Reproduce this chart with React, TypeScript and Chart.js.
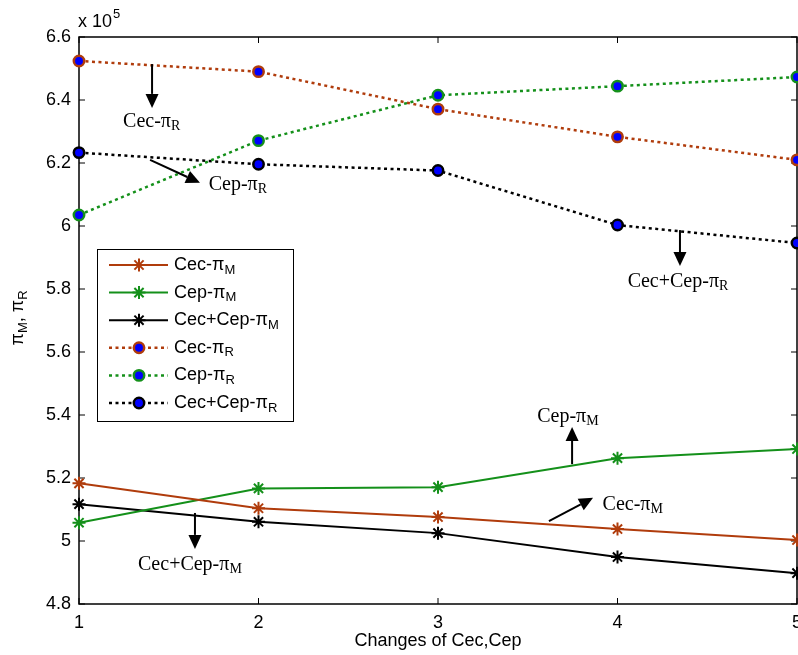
import React, { useEffect, useRef } from 'react';
import { Chart, registerables } from 'chart.js';
Chart.register(...registerables);

const xValues = [1, 2, 3, 4, 5];
const cecM = [518300, 510400, 507600, 503800, 500300];
const cepM = [505800, 516700, 517100, 526300, 529200];
const bothM = [511700, 506100, 502500, 494900, 489800];
const cecR = [652400, 649000, 637100, 628300, 621000];
const cepR = [603500, 627100, 641500, 644400, 647300];
const bothR = [623300, 619600, 617600, 600300, 594600];

const yMin = 480000;
const yMax = 660000;
const yStep = 20000;
const xTitle = 'Changes of Cec,Cep';

const ORANGE = '#b03c0c';
const GREEN = '#14901a';
const BLACK = '#000000';
const BLUE = '#0000ff';

type Ann = { base: string; sub: string; tx: number; ty: number; ax1: number; ay1: number; ax2: number; ay2: number };
const annotations: Ann[] = [
  { base: 'Cec-π', sub: 'R', tx: 1.405, ty: 633000, ax1: 1.407, ay1: 651400, ax2: 1.407, ay2: 637500 },
  { base: 'Cep-π', sub: 'R', tx: 1.885, ty: 613000, ax1: 1.396, ay1: 621000, ax2: 1.674, ay2: 613700 },
  { base: 'Cec+Cep-π', sub: 'R', tx: 4.337, ty: 582200, ax1: 4.348, ay1: 598700, ax2: 4.348, ay2: 587300 },
  { base: 'Cep-π', sub: 'M', tx: 3.724, ty: 539400, ax1: 3.747, ay1: 524400, ax2: 3.747, ay2: 536200 },
  { base: 'Cec-π', sub: 'M', tx: 4.085, ty: 511400, ax1: 3.618, ay1: 506300, ax2: 3.864, ay2: 513700 },
  { base: 'Cec+Cep-π', sub: 'M', tx: 1.618, ty: 492400, ax1: 1.646, ay1: 508900, ax2: 1.646, ay2: 497500 },
];

function drawSub(ctx: CanvasRenderingContext2D, x: number, y: number, base: string, sub: string, font: string, subFont: string, subOff: number, align: 'left' | 'center') {
  ctx.save();
  ctx.textBaseline = 'middle';
  ctx.textAlign = 'left';
  ctx.font = font;
  const wb = ctx.measureText(base).width;
  ctx.font = subFont;
  const ws = ctx.measureText(sub).width;
  let sx = x;
  if (align === 'center') sx = x - (wb + ws) / 2;
  ctx.font = font;
  ctx.fillText(base, sx, y);
  ctx.font = subFont;
  ctx.fillText(sub, sx + wb, y + subOff);
  ctx.restore();
}

function mk(label: string, sub: string, vals: number[], color: string, dotted: boolean) {
  return {
    label,
    sub,
    data: xValues.map((x, i) => ({ x, y: vals[i] })),
    borderColor: color,
    borderWidth: dotted ? 2.5 : 2,
    borderDash: dotted ? [3, 3.5] : [],
    pointStyle: dotted ? 'circle' : 'star',
    pointRadius: dotted ? 5.2 : 6.5,
    pointBorderWidth: dotted ? 2.5 : 2,
    pointBorderColor: color,
    pointBackgroundColor: dotted ? BLUE : color,
    fill: false,
    tension: 0,
    clip: false as any,
  };
}

function drawMarker(ctx: CanvasRenderingContext2D, ds: any, x: number, y: number) {
  ctx.save();
  ctx.strokeStyle = ds.pointBorderColor;
  ctx.fillStyle = ds.pointBackgroundColor;
  ctx.lineWidth = ds.pointBorderWidth;
  const r = ds.pointRadius;
  if (ds.pointStyle === 'circle') {
    ctx.beginPath();
    ctx.arc(x, y, r, 0, Math.PI * 2);
    ctx.fill();
    ctx.stroke();
  } else {
    ctx.beginPath();
    for (let k = 0; k < 4; k++) {
      const an = (k * Math.PI) / 4;
      ctx.moveTo(x + r * Math.cos(an), y + r * Math.sin(an));
      ctx.lineTo(x - r * Math.cos(an), y - r * Math.sin(an));
    }
    ctx.stroke();
  }
  ctx.restore();
}

const boxPlugin = {
  id: 'boxPlugin',
  beforeDatasetsDraw(chart: any) {
    const { ctx, chartArea } = chart;
    const { left, right, top, bottom } = chartArea;
    const xs = chart.scales.x;
    const ys = chart.scales.y;
    ctx.save();
    ctx.strokeStyle = '#000';
    ctx.lineWidth = 1.5;
    ctx.strokeRect(left, top, right - left, bottom - top);
    ctx.lineWidth = 1;
    ctx.beginPath();
    xs.ticks.forEach((t: any) => {
      const px = xs.getPixelForValue(t.value);
      ctx.moveTo(px, bottom);
      ctx.lineTo(px, bottom - 6);
      ctx.moveTo(px, top);
      ctx.lineTo(px, top + 6);
    });
    ys.ticks.forEach((t: any) => {
      const py = ys.getPixelForValue(t.value);
      ctx.moveTo(left, py);
      ctx.lineTo(left + 6, py);
      ctx.moveTo(right, py);
      ctx.lineTo(right - 6, py);
    });
    ctx.stroke();
    ctx.restore();
  },
  afterDraw(chart: any) {
    const { ctx, chartArea } = chart;
    const xs = chart.scales.x;
    const ys = chart.scales.y;
    ctx.save();
    ctx.fillStyle = '#000';
    // exponent label
    ctx.font = '18px "Liberation Sans", Arial, sans-serif';
    ctx.textBaseline = 'alphabetic';
    ctx.textAlign = 'left';
    ctx.fillText('x 10', chartArea.left - 1, 27);
    const w = ctx.measureText('x 10').width;
    ctx.font = '13px "Liberation Sans", Arial, sans-serif';
    ctx.fillText('5', chartArea.left - 1 + w + 1, 18);
    // x title
    ctx.font = '18px "Liberation Sans", Arial, sans-serif';
    ctx.textAlign = 'center';
    ctx.textBaseline = 'middle';
    ctx.fillText(xTitle, (chartArea.left + chartArea.right) / 2, 641);
    // y title
    ctx.save();
    ctx.translate(18, 318);
    ctx.rotate(-Math.PI / 2);
    const f = '18px "Liberation Sans", Arial, sans-serif';
    const sf = '13px "Liberation Sans", Arial, sans-serif';
    const parts: [string, string][] = [['π', 'M'], [', π', 'R']];
    let total = 0;
    const widths = parts.map(([b, s]) => {
      ctx.font = f;
      const wb = ctx.measureText(b).width;
      ctx.font = sf;
      const ws = ctx.measureText(s).width;
      total += wb + ws;
      return [wb, ws];
    });
    let cx = -total / 2;
    ctx.textAlign = 'left';
    parts.forEach(([b, s], i) => {
      ctx.font = f;
      ctx.fillText(b, cx, 0);
      ctx.font = sf;
      ctx.fillText(s, cx + widths[i][0], 5);
      cx += widths[i][0] + widths[i][1];
    });
    ctx.restore();

    // annotations
    annotations.forEach((a) => {
      const x1 = xs.getPixelForValue(a.ax1);
      const y1 = ys.getPixelForValue(a.ay1);
      const x2 = xs.getPixelForValue(a.ax2);
      const y2 = ys.getPixelForValue(a.ay2);
      const ang = Math.atan2(y2 - y1, x2 - x1);
      const hl = 14;
      const hw = 6.5;
      const bx = x2 - hl * Math.cos(ang);
      const by = y2 - hl * Math.sin(ang);
      ctx.strokeStyle = '#000';
      ctx.lineWidth = 2;
      ctx.beginPath();
      ctx.moveTo(x1, y1);
      ctx.lineTo(bx, by);
      ctx.stroke();
      ctx.beginPath();
      ctx.moveTo(x2, y2);
      ctx.lineTo(bx + hw * Math.sin(ang), by - hw * Math.cos(ang));
      ctx.lineTo(bx - hw * Math.sin(ang), by + hw * Math.cos(ang));
      ctx.closePath();
      ctx.fillStyle = '#000';
      ctx.fill();
      drawSub(ctx, xs.getPixelForValue(a.tx), ys.getPixelForValue(a.ty), a.base, a.sub,
        '20px "Liberation Serif", "Times New Roman", serif', '14px "Liberation Serif", "Times New Roman", serif', 4, 'center');
    });

    // legend
    const lx = 97, ly = 249, lw = 196, lh = 172;
    ctx.fillStyle = '#fff';
    ctx.fillRect(lx, ly, lw, lh);
    ctx.strokeStyle = '#000';
    ctx.lineWidth = 1;
    ctx.strokeRect(lx + 0.5, ly + 0.5, lw, lh);
    chart.data.datasets.forEach((ds: any, i: number) => {
      const ry = 265 + i * 27.6;
      ctx.save();
      ctx.strokeStyle = ds.borderColor;
      ctx.lineWidth = ds.borderWidth;
      ctx.setLineDash(ds.borderDash || []);
      ctx.beginPath();
      ctx.moveTo(109, ry);
      ctx.lineTo(168, ry);
      ctx.stroke();
      ctx.restore();
      drawMarker(ctx, ds, 139, ry);
      ctx.fillStyle = '#000';
      drawSub(ctx, 174, ry, ds.label, ds.sub, '18px "Liberation Sans", Arial, sans-serif', '13px "Liberation Sans", Arial, sans-serif', 5, 'left');
    });
    ctx.restore();
  },
};

export default function App() {
  const ref = useRef<HTMLCanvasElement | null>(null);
  useEffect(() => {
    document.body.style.margin = '0';
    const canvas = ref.current!;
    const chart = new Chart(canvas, {
      type: 'line',
      data: {
        datasets: [
          mk('Cec-π', 'M', cecM, ORANGE, false),
          mk('Cep-π', 'M', cepM, GREEN, false),
          mk('Cec+Cep-π', 'M', bothM, BLACK, false),
          mk('Cec-π', 'R', cecR, ORANGE, true),
          mk('Cep-π', 'R', cepR, GREEN, true),
          mk('Cec+Cep-π', 'R', bothR, BLACK, true),
        ] as any,
      },
      options: {
        animation: false,
        responsive: false,
        events: [],
        layout: { padding: { left: 0, top: 37, right: 1, bottom: 0 }, autoPadding: false } as any,
        plugins: { legend: { display: false }, tooltip: { enabled: false }, title: { display: false } },
        scales: {
          x: {
            type: 'linear',
            min: 1,
            max: 5,
            grid: { display: false },
            border: { display: false },
            ticks: {
              stepSize: 1,
              padding: 0,
              color: '#000',
              font: { family: '"Liberation Sans", Arial, sans-serif', size: 18 },
              maxRotation: 0,
            },
            afterFit: (s: any) => { s.height = 51; s.paddingLeft = 0; s.paddingRight = 0; },
          },
          y: {
            type: 'linear',
            min: yMin,
            max: yMax,
            grid: { display: false },
            border: { display: false },
            ticks: {
              stepSize: yStep,
              padding: 0,
              color: '#000',
              font: { family: '"Liberation Sans", Arial, sans-serif', size: 18 },
              callback: (v: any) => String(Math.round(Number(v) / 1e4) / 10),
            },
            afterFit: (s: any) => { s.width = 79; s.paddingTop = 0; s.paddingBottom = 0; },
          },
        },
      } as any,
      plugins: [boxPlugin],
    });
    return () => chart.destroy();
  }, []);
  return <canvas ref={ref} width={798} height={655} style={{ display: 'block' }} />;
}
